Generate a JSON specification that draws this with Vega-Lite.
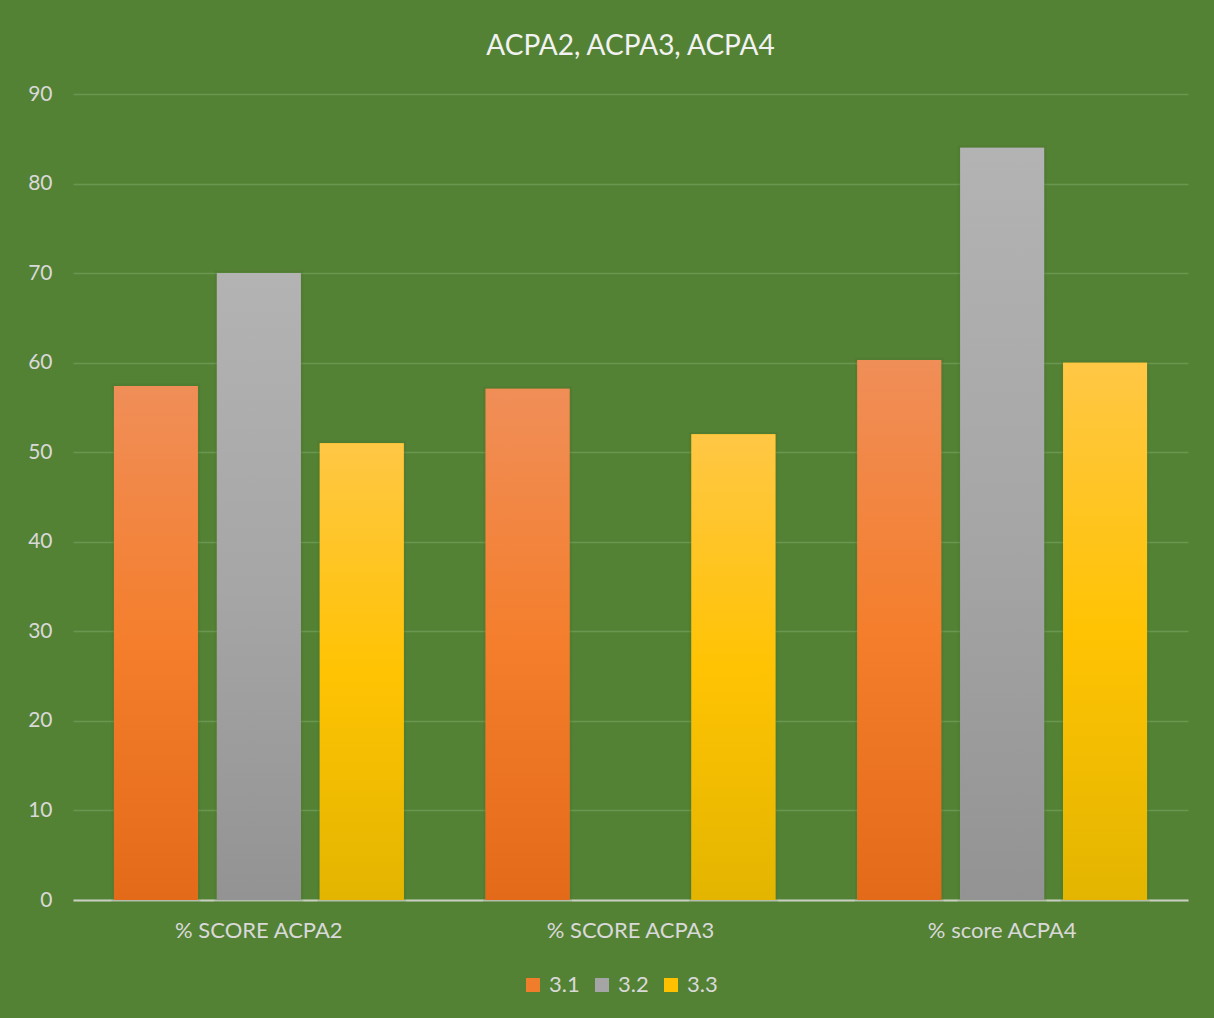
{
  "$schema": "https://vega.github.io/schema/vega-lite/v6.json",
  "autosize": {"type": "none"},
  "width": 1115,
  "height": 806,
  "padding": {"left": 73, "top": 94, "right": 26, "bottom": 118},
  "background": "#548235",
  "title": {
    "text": "ACPA2, ACPA3, ACPA4",
    "font": "Lato",
    "fontSize": 28,
    "fontWeight": "normal",
    "color": "#f2f2f2",
    "anchor": "middle",
    "offset": 22
  },
  "data": {
    "values": [
      {"cat": "% SCORE ACPA2", "series": "3.1", "value": 57.4},
      {"cat": "% SCORE ACPA2", "series": "3.2", "value": 70.0},
      {"cat": "% SCORE ACPA2", "series": "3.3", "value": 51.0},
      {"cat": "% SCORE ACPA3", "series": "3.1", "value": 57.1},
      {"cat": "% SCORE ACPA3", "series": "3.3", "value": 52.0},
      {"cat": "% score ACPA4", "series": "3.1", "value": 60.3},
      {"cat": "% score ACPA4", "series": "3.2", "value": 84.0},
      {"cat": "% score ACPA4", "series": "3.3", "value": 60.0}
    ]
  },
  "encoding": {
    "x": {
      "field": "cat",
      "type": "nominal",
      "sort": ["% SCORE ACPA2", "% SCORE ACPA3", "% score ACPA4"],
      "scale": {"paddingInner": 0.2204, "paddingOuter": 0.1102},
      "axis": {
        "title": null,
        "labelAngle": 0,
        "labelFont": "Lato",
        "labelFontSize": 22,
        "labelColor": "#d9d9d9",
        "labelPadding": 20,
        "ticks": false,
        "domain": true,
        "domainColor": "#c9cfc3",
        "domainWidth": 2,
        "grid": false
      }
    },
    "xOffset": {
      "field": "series",
      "type": "nominal",
      "sort": ["3.1", "3.2", "3.3"],
      "scale": {"paddingInner": 0.1845, "paddingOuter": 0}
    },
    "y": {
      "field": "value",
      "type": "quantitative",
      "scale": {"domain": [0, 90], "nice": false},
      "axis": {
        "title": null,
        "values": [0, 10, 20, 30, 40, 50, 60, 70, 80, 90],
        "labelFont": "Lato",
        "labelFontSize": 21,
        "labelColor": "#d9d9d9",
        "labelPadding": 21,
        "ticks": false,
        "domain": false,
        "grid": true,
        "gridColor": "#6a9650",
        "gridWidth": 1.5
      }
    }
  },
  "layer": [
    {
      "mark": {
        "type": "bar",
        "fill": "#3f6626",
        "opacity": 0.45,
        "stroke": "#3f6626",
        "strokeWidth": 5,
        "strokeOpacity": 0.35,
        "xOffset": 3
      },
      "encoding": {}
    },
    {
      "mark": {"type": "bar"},
      "encoding": {
        "color": {
          "field": "series",
          "type": "nominal",
          "sort": ["3.1", "3.2", "3.3"],
          "scale": {"domain": ["3.1", "3.2", "3.3"], "range": ["#F07D2C", "#A5A5A5", "#FFC000"]},
          "legend": {
            "title": null,
            "orient": "none",
            "legendX": 449,
            "legendY": 880,
            "direction": "horizontal",
            "symbolType": "square",
            "symbolSize": 196,
            "symbolStrokeWidth": 0,
            "labelFont": "Lato",
            "labelFontSize": 22,
            "labelColor": "#d9d9d9",
            "columnPadding": 11,
            "labelOffset": 5
          }
        }
      }
    },
    {
      "mark": {"type": "bar"},
      "encoding": {
        "fill": {
          "condition": [
            {
              "test": "datum.series === '3.1'",
              "value": {
                "gradient": "linear", "x1": 0, "y1": 0, "x2": 0, "y2": 1,
                "stops": [
                  {"offset": 0, "color": "#F08E58"},
                  {"offset": 0.5, "color": "#F47E2C"},
                  {"offset": 1, "color": "#E36A18"}
                ]
              }
            },
            {
              "test": "datum.series === '3.2'",
              "value": {
                "gradient": "linear", "x1": 0, "y1": 0, "x2": 0, "y2": 1,
                "stops": [
                  {"offset": 0, "color": "#B3B3B3"},
                  {"offset": 0.5, "color": "#A6A6A6"},
                  {"offset": 1, "color": "#939393"}
                ]
              }
            }
          ],
          "value": {
            "gradient": "linear", "x1": 0, "y1": 0, "x2": 0, "y2": 1,
            "stops": [
              {"offset": 0, "color": "#FFC745"},
              {"offset": 0.5, "color": "#FFC303"},
              {"offset": 1, "color": "#E3B500"}
            ]
          }
        }
      }
    }
  ],
  "config": {
    "view": {"stroke": null}
  }
}
